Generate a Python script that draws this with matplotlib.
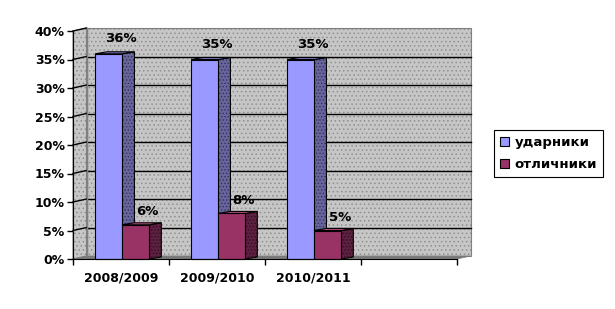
import matplotlib
matplotlib.use("Agg")
import matplotlib.pyplot as plt
from matplotlib.patches import Polygon, Patch

plt.rcParams['font.family'] = ['DejaVu Sans']
plt.rcParams['hatch.linewidth'] = 0.6

categories = ['2008/2009', '2009/2010', '2010/2011', '']
udarniki = [36, 35, 35]
otlichniki = [6, 8, 5]
series_names = ['ударники', 'отличники']
yticks = [0, 5, 10, 15, 20, 25, 30, 35, 40]
ytick_labels = [f'{v}%' for v in yticks]

W, H = 615, 309
fig = plt.figure(figsize=(W / 100, H / 100), dpi=100)
ax = fig.add_axes([73 / W, (H - 259) / H, (457 - 73) / W, (259 - 31) / H])
ax.set_xlim(-0.5, len(categories) - 0.5)
ax.set_ylim(0, 40)

# depth offsets (data units)
px_x = (len(categories)) / (457 - 73)
px_y = 40 / (259 - 31)
wdx, wdy = 13.5 * px_x, 3 * px_y
bdx, bdy = 12 * px_x, 2 * px_y

x0, x1 = -0.5, len(categories) - 0.5
wall_col = '#C6C6C6'


def hatched(pts, face, hatch, hcol, edge, lw, z):
    ax.add_patch(Polygon(pts, closed=True, facecolor=face, edgecolor=hcol, hatch=hatch, lw=0,
                         clip_on=False, zorder=z))
    ax.add_patch(Polygon(pts, closed=True, facecolor='none', edgecolor=edge, lw=lw,
                         clip_on=False, zorder=z))


# back wall
hatched([(x0 + wdx, wdy), (x1 + wdx, wdy), (x1 + wdx, 40 + wdy), (x0 + wdx, 40 + wdy)],
        wall_col, '....', '#909090', '#808080', 0.8, 1)
# side wall
hatched([(x0, 0), (x0, 40), (x0 + wdx, 40 + wdy), (x0 + wdx, wdy)],
        wall_col, '....', '#909090', '#808080', 0.8, 1)
# floor
ax.add_patch(Polygon([(x0, 0), (x1, 0), (x1 + wdx, wdy), (x0 + wdx, wdy)],
                     closed=True, facecolor='#7a7a7a', edgecolor='#7a7a7a', lw=0.5,
                     clip_on=False, zorder=1.5))
# gridlines on back and side walls
for v in yticks[1:-1]:
    ax.plot([x0 + wdx, x1 + wdx], [v + wdy, v + wdy], color='black', lw=1.0, zorder=2, clip_on=False)
for v in yticks[1:]:
    ax.plot([x0, x0 + wdx], [v, v + wdy], color='black', lw=1.0, zorder=2, clip_on=False)
ax.plot([x0 + wdx, x0 + wdx], [wdy, 40 + wdy], color='#808080', lw=1.0, zorder=2, clip_on=False)


def bar3d(left, width, val, front, side, sdot, top, z):
    r = left + width
    hatched([(r, 0), (r, val), (r + bdx, val + bdy), (r + bdx, bdy)], side, '.....', sdot, 'black', 0.8, z)
    hatched([(left, val), (r, val), (r + bdx, val + bdy), (left + bdx, val + bdy)], top, None, 'black',
            'black', 0.8, z)
    hatched([(left, 0), (r, 0), (r, val), (left, val)], front, None, 'black', 'black', 0.8, z + 0.1)


bw = 0.285
blue_front, blue_side = '#9999FF', '#66669C'
red_front, red_side = '#993366', '#5E2040'
for i, (u, o) in enumerate(zip(udarniki, otlichniki)):
    bl = i - 0.27
    rl = i + 0.01
    bar3d(bl, bw, u, blue_front, blue_side, '#33335A', '#7B7BC8', 3 + i)
    bar3d(rl, bw, o, red_front, red_side, '#2E0F20', '#C0568A', 3.5 + i)
    ax.annotate(f'{u}%', (bl + bw / 2 + bdx, u), xytext=(0, 15), textcoords='offset pixels',
                ha='center', va='center', fontsize=9.5, fontweight='bold', zorder=10)
    ax.annotate(f'{o}%', (rl + bw / 2 + bdx, o), xytext=(0, 13), textcoords='offset pixels',
                ha='center', va='center', fontsize=9.5, fontweight='bold', zorder=10)

# axes styling
for s in ['top', 'right']:
    ax.spines[s].set_visible(False)
ax.spines['left'].set_color('black')
ax.spines['bottom'].set_color('black')
ax.spines['left'].set_zorder(8)
ax.spines['bottom'].set_zorder(8)
ax.set_facecolor('none')
ax.set_yticks(yticks)
ax.set_yticklabels(ytick_labels, fontsize=9, fontweight='bold')
ax.set_xticks([i - 0.5 for i in range(len(categories) + 1)])
ax.set_xticklabels([])
ax.set_xticks(range(len(categories)), minor=True)
ax.set_xticklabels(categories, minor=True, fontsize=9, fontweight='bold')
ax.tick_params(axis='x', which='minor', length=0, pad=9)
ax.tick_params(axis='both', which='major', length=4, width=1, color='black', direction='out')
ax.tick_params(axis='y', pad=2)

handles = [Patch(facecolor=blue_front, edgecolor='black', lw=0.8),
           Patch(facecolor=red_front, edgecolor='black', lw=0.8)]
leg = fig.legend(handles, series_names, loc='upper left', bbox_to_anchor=(494 / W, 1 - 130 / H),
                 prop={'weight': 'bold', 'size': 9.5}, frameon=True, fancybox=False, framealpha=1,
                 edgecolor='black', handlelength=0.7, handleheight=0.7, handletextpad=0.4,
                 borderpad=0.45, labelspacing=0.7, borderaxespad=0)
leg.get_frame().set_linewidth(0.8)

fig.savefig('out.png', dpi=100)
